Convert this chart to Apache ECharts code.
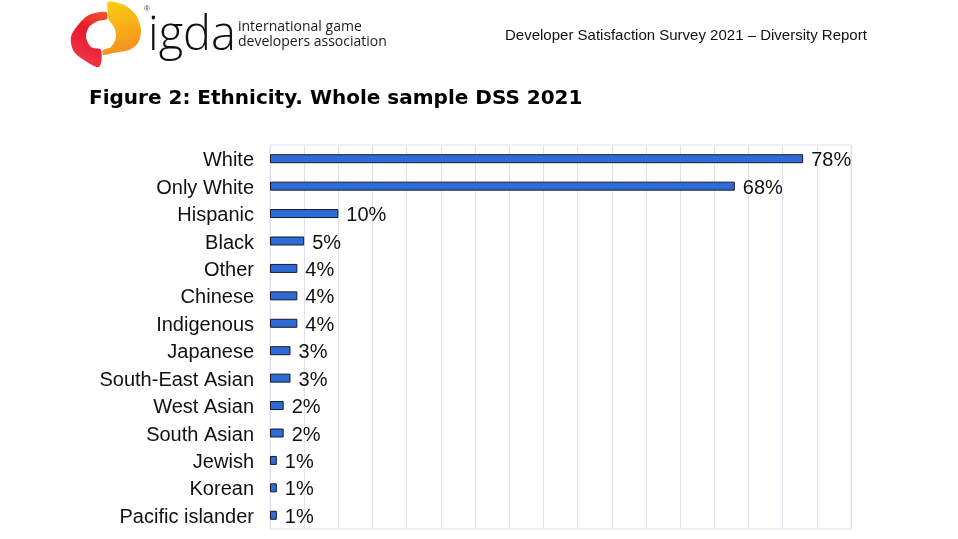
<!DOCTYPE html>
<html>
<head>
<meta charset="utf-8">
<script src="https://cdn.jsdelivr.net/npm/echarts@6/dist/echarts.min.js"></script>
<style>
  html, body { margin: 0; padding: 0; background: #fff; }
  #main { width: 958px; height: 539px; }
</style>
</head>
<body>
<div id="main"></div>
<script>
// ethnicity categories, top to bottom
const categories = [
  'White', 'Only White', 'Hispanic', 'Black', 'Other', 'Chinese', 'Indigenous',
  'Japanese', 'South-East Asian', 'West Asian', 'South Asian', 'Jewish', 'Korean', 'Pacific islander'
];
// share of respondents (%)
const values = [78, 68, 10, 5, 4, 4, 4, 3, 3, 2, 2, 1, 1, 1];

const headerText = 'Developer Satisfaction Survey 2021 \u2013 Diversity Report';
const figureTitle = 'Figure 2: Ethnicity. Whole sample DSS 2021';

const chart = echarts.init(document.getElementById('main'));

const option = {
  backgroundColor: '#ffffff',
  animation: false,
  graphic: [
    // logo: red left half
    {
      type: 'polygon',
      shape: {
        smooth: 0.3,
        points: [[106, 12], [89, 15], [78, 25], [71, 37], [73, 50], [81, 58], [99, 67],
                 [101, 50], [91, 47], [86, 37], [89, 27], [98, 21], [107, 19]]
      },
      style: {
        fill: {
          type: 'linear', x: 1, y: 0, x2: 0.3, y2: 1,
          colorStops: [
            { offset: 0, color: '#f35a2a' },
            { offset: 0.4, color: '#e8192c' },
            { offset: 1, color: '#f0384c' }
          ]
        }
      }
    },
    // logo: orange / yellow right half
    {
      type: 'polygon',
      shape: {
        smooth: 0.3,
        points: [[108, 2], [124, 5], [136, 15], [141, 30], [138, 43], [129, 50], [113, 53],
                 [103, 55], [103, 50], [111, 47], [116, 37], [114, 27], [109, 20], [108, 13]]
      },
      style: {
        fill: {
          type: 'linear', x: 0, y: 0, x2: 0.4, y2: 1,
          colorStops: [{ offset: 0, color: '#fdd010' }, { offset: 1, color: '#f5901f' }]
        }
      }
    },
    {
      type: 'text', left: 144, top: 5,
      style: { text: '\u00ae', fill: '#444', font: '8px "Liberation Sans"' }
    },
    {
      type: 'text', left: 148, top: 13,
      style: { text: 'igda', fill: '#111', font: '300 47px "Open Sans"' }
    },
    {
      type: 'text', left: 238, top: 20,
      style: { text: 'international game', fill: '#1a1a1a', font: '14px "Open Sans"' }
    },
    {
      type: 'text', left: 238, top: 35,
      style: { text: 'developers association', fill: '#1a1a1a', font: '14px "Open Sans"' }
    },
    {
      type: 'text', left: 505, top: 28,
      style: { text: headerText, fill: '#111', font: '15px "Liberation Sans"' }
    },
    {
      type: 'text', left: 89, top: 89,
      style: { text: figureTitle, fill: '#000', font: 'bold 20px "DejaVu Sans"' }
    }
  ],
  grid: {
    left: 270,
    right: 107,
    top: 145,
    bottom: 10,
    show: true,
    borderColor: '#dde3eb',
    borderWidth: 1
  },
  xAxis: {
    type: 'value',
    min: 0,
    max: 85,
    interval: 5,
    axisLabel: { show: false },
    axisLine: { show: false },
    axisTick: { show: false },
    splitLine: { lineStyle: { color: '#dde3eb', width: 1 } }
  },
  yAxis: {
    type: 'category',
    inverse: true,
    data: categories,
    axisLine: { show: false },
    axisTick: { show: false },
    axisLabel: {
      margin: 16,
      formatter: (v) => '{c|' + v + '}',
      rich: {
        c: {
          color: '#111',
          fontSize: 20,
          fontFamily: 'Liberation Sans',
          padding: [4, 0, 0, 0]
        }
      }
    }
  },
  series: [
    {
      type: 'bar',
      data: values,
      barWidth: 9,
      itemStyle: {
        color: '#2f6bd6',
        borderColor: '#141a2c',
        borderWidth: 1
      },
      label: {
        show: true,
        position: 'right',
        distance: 8,
        offset: [0, 2],
        formatter: '{c}%',
        color: '#111',
        fontSize: 20,
        fontFamily: 'Liberation Sans'
      }
    }
  ]
};

chart.setOption(option);
</script>
</body>
</html>
